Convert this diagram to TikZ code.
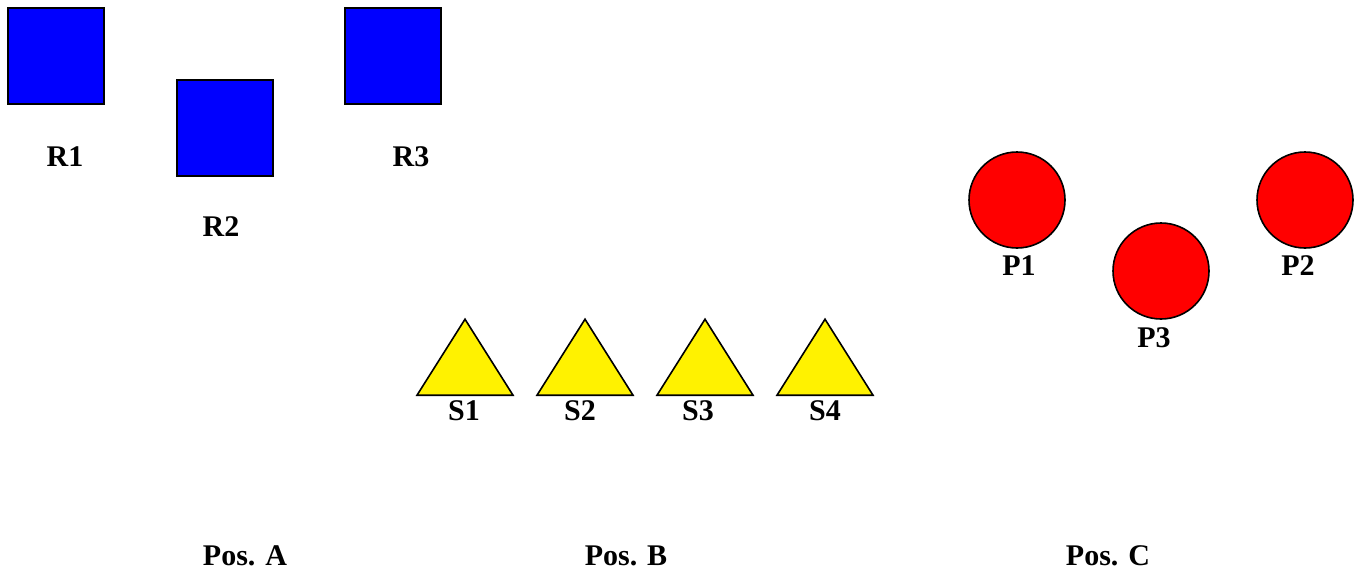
\documentclass[tikz,border=0pt]{standalone}
\usepackage{fontspec}
\setmainfont{Liberation Serif}
\usetikzlibrary{shapes.geometric}

\begin{document}
\begin{tikzpicture}[x=1pt,y=-1pt,text centered,
	sq/.style={rectangle,draw=black,fill=blue,line width=1.6pt,inner sep=0pt,minimum size=96pt},
	tri/.style={isosceles triangle,shape border rotate=90,isosceles triangle stretches,draw=black,fill=yellow,line width=1.6pt,inner sep=0pt,minimum width=96pt,minimum height=76pt,anchor=lower side},
	ball/.style={circle,draw=black,fill=red,line width=1.6pt,inner sep=0pt,minimum size=96pt},
	lab/.style={font=\fontsize{30}{36}\selectfont\bfseries,inner sep=0pt}]
\useasboundingbox (0,0) rectangle (1354,573);
% Pos. A
\node[sq] (r1) at (56,56) {};
\node[sq] (r2) at (225,128) {};
\node[sq] (r3) at (393,56) {};
\node[lab,below of=r1,node distance=101pt,xshift=9pt] (r1lab) {R1};
\node[lab,below of=r2,node distance=99pt,xshift=-4pt] (r2lab) {R2};
\node[lab,below of=r3,node distance=101pt,xshift=18pt] (r3lab) {R3};
% Pos. B
\node[tri] (s1) at (465,396) {};
\node[tri] (s2) at (585,396) {};
\node[tri] (s3) at (705,396) {};
\node[tri] (s4) at (825,396) {};
\node[lab] (s1lab) at (464,411) {S1};
\node[lab] (s2lab) at (580,411) {S2};
\node[lab] (s3lab) at (698,411) {S3};
\node[lab] (s4lab) at (825,411) {S4};
% Pos. C
\node[ball] (p1) at (1017,200) {};
\node[ball] (p2) at (1305,200) {};
\node[ball] (p3) at (1161,271) {};
\node[lab,below of=p1,node distance=66pt,xshift=2pt] (p1lab) {P1};
\node[lab,below of=p2,node distance=66pt,xshift=-7pt] (p2lab) {P2};
\node[lab,below of=p3,node distance=67pt,xshift=-7pt] (p3lab) {P3};
% positions
\node[lab] (posa) at (245,556) {Pos. A};
\node[lab] (posb) at (626,556) {Pos. B};
\node[lab] (posc) at (1108,556) {Pos. C};
\end{tikzpicture}
\end{document}
